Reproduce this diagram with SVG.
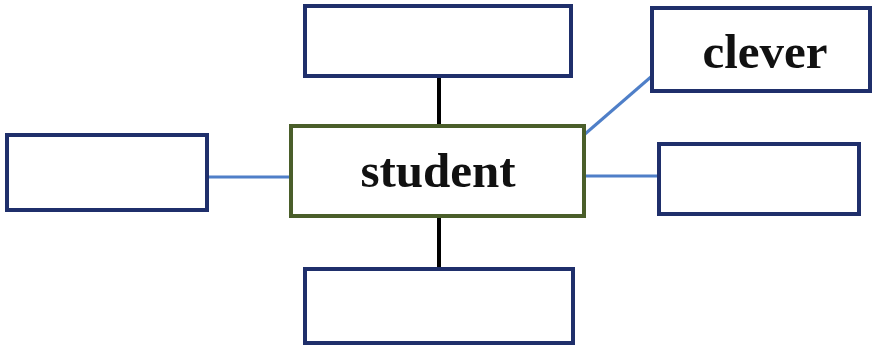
<svg xmlns="http://www.w3.org/2000/svg" width="874" height="351" viewBox="0 0 874 351">
<style>
.box{fill:#fff;stroke:#1F2F6B;stroke-width:4}
.main{fill:#fff;stroke:#4A5E2A;stroke-width:4}
.blk{stroke:#000;stroke-width:4}
.blu{stroke:#4F7FC8;stroke-width:3}
text{font-family:"Liberation Serif","Times New Roman",serif;font-weight:bold;font-size:49px;fill:#111;text-anchor:middle}
</style>
<rect width="874" height="351" fill="#fff"/>
<g id="connectors">
<line class="blk" x1="439" y1="77" x2="439" y2="125"/>
<line class="blk" x1="439" y1="217" x2="439" y2="268"/>
<line class="blu" x1="208" y1="177" x2="290" y2="177"/>
<line class="blu" x1="585" y1="176" x2="658" y2="176"/>
<line class="blu" x1="585" y1="134" x2="652" y2="76"/>
</g>
<g id="top"><rect class="box" x="305" y="6" width="266" height="70"/></g>
<g id="student"><rect class="main" x="291" y="126" width="293" height="90"/><text x="438" y="187">student</text></g>
<g id="left"><rect class="box" x="7" y="135" width="200" height="75"/></g>
<g id="clever"><rect class="box" x="652" y="8" width="218" height="83"/><text x="765" y="68">clever</text></g>
<g id="right"><rect class="box" x="659" y="144" width="200" height="70"/></g>
<g id="bottom"><rect class="box" x="305" y="269" width="268" height="74"/></g>
</svg>
